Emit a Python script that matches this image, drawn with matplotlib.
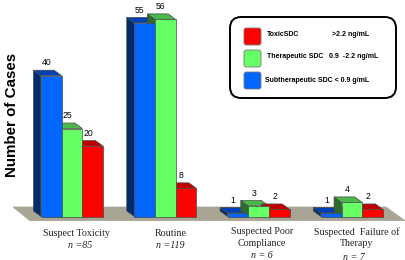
import matplotlib
matplotlib.use('Agg')
import matplotlib.pyplot as plt
from matplotlib.patches import Polygon, FancyBboxPatch

categories = [['Suspect Toxicity'], ['Routine'], ['Suspected Poor', 'Compliance'], ['Suspected  Failure of', 'Therapy']]
n_labels = ['n =85', 'n =119', 'n = 6', 'n = 7']
subtherapeutic = [40, 55, 1, 1]
therapeutic = [25, 56, 3, 4]
toxic = [20, 8, 2, 2]
legend_names = ['ToxicSDC', 'Therapeutic SDC', 'Subtherapeutic SDC < 0.9 g/mL']
legend_ranges = ['>2.2 ng/mL', '0.9  -2.2 ng/mL', '']

W, H = 406, 260
BASE = 216.5
PX_PER_CASE = 3.52
GROUP_PX = 93.3
FIRST_CENTER = 72
BAR_W = 20.7 / GROUP_PX
DX = -7.5 / GROUP_PX
DY = 5.5 / PX_PER_CASE


# pixel position of the reference -> data coordinates of the axes
def px(x, y):
    return (x - FIRST_CENTER) / GROUP_PX, (BASE - y) / PX_PER_CASE


fig = plt.figure(figsize=(W / 100, H / 100), dpi=100)
ax = fig.add_axes([0, 0, 1, 1])
x0, y0 = px(0, H)
x1, y1 = px(W, 0)
ax.set_xlim(x0, x1)
ax.set_ylim(y0, y1)
ax.axis('off')

floor = [px(13, 207), px(30, 220.7), px(405, 220.7), px(386, 207)]
ax.add_patch(Polygon(floor, closed=True, fc='#a8a594', ec='#a8a594', lw=0.5, zorder=1))

series = [
    (subtherapeutic, -1, '#0066ff', '#0040b4', '#002c6c'),
    (therapeutic, 0, '#66ff66', '#4cb84c', '#2c6a2c'),
    (toxic, 1, '#ff0000', '#c00000', '#7c0000'),
]
edge = '#4a4a4a'
z = 2
for values, offset, front, top, side in series:
    for g, v in enumerate(values):
        left = g + offset * BAR_W - BAR_W / 2
        right = left + BAR_W
        ax.add_patch(Polygon([(left, 0), (left, v), (left + DX, v + DY), (left + DX, DY)],
                             closed=True, fc=side, ec=edge, lw=0.5, zorder=z))
        ax.add_patch(Polygon([(left, v), (right, v), (right + DX, v + DY), (left + DX, v + DY)],
                             closed=True, fc=top, ec=edge, lw=0.5, zorder=z))
        # fronts go above all sides and tops, a taller neighbour hides what is behind it
        ax.bar(left, v, width=BAR_W, bottom=0, align='edge', color=front, edgecolor=edge, lw=0.5, zorder=z + 5)
        ax.text(left + BAR_W / 2 + DX / 2 - 1 / GROUP_PX, v + DY + 0.8, str(v), ha='center', va='bottom',
                fontsize=6.2, family='Liberation Sans', zorder=15)
    z += 1

label_x = [76.5, 170.5, 262, 357]
label_y = [[233], [233], [231, 243], [232, 244]]
n_x = [80, 170, 262, 354]
n_y = [246, 245, 256, 257]
for g, lines in enumerate(categories):
    for line, yp in zip(lines, label_y[g]):
        xc, yc = px(label_x[g], yp)
        ax.text(xc, yc, line, ha='center', va='center', fontsize=7.2, family='Liberation Serif', color='#222222')
    xc, yc = px(n_x[g], n_y[g])
    ax.text(xc, yc, n_labels[g], ha='center', va='center', fontsize=7.2, family='Liberation Serif',
            style='italic', color='#222222')

tx, ty = px(12.5, 114.5)
ax.text(tx, ty, 'Number of Cases', rotation=90, ha='center', va='center', fontsize=10.9,
        family='Liberation Sans', fontweight='bold')

# legend box, drawn in data coords scaled from reference pixels
bx0, by0 = px(230, 98)
bx1, by1 = px(396, 17)
box = FancyBboxPatch((bx0, by0), bx1 - bx0, by1 - by0, boxstyle='round,pad=0,rounding_size=0.12',
                     mutation_aspect=(PX_PER_CASE ** -1) * GROUP_PX, fc='white', ec='black', lw=1.4, zorder=20)
ax.add_patch(box)
swatches = ['#ff0000', '#66ff66', '#0066ff']
tops = [28, 50, 72]
text_y = [35, 57, 80]
for color, top, yp, name, rng in zip(swatches, tops, text_y, legend_names, legend_ranges):
    sx0, sy0 = px(244, top + 17)
    sx1, sy1 = px(261, top)
    ax.add_patch(FancyBboxPatch((sx0, sy0), sx1 - sx0, sy1 - sy0, boxstyle='round,pad=0,rounding_size=0.025',
                                mutation_aspect=(PX_PER_CASE ** -1) * GROUP_PX, fc=color, ec='#777777', lw=0.6, zorder=21))
    lx, ly = px(267 if top < 72 else 265, yp)
    ax.text(lx, ly, name, ha='left', va='center', fontsize=5.05, family='Liberation Sans',
            fontweight='bold', zorder=22)
    if rng:
        rx, _ = px(332 if top == 28 else 329, 0)
        ax.text(rx, ly, rng, ha='left', va='center', fontsize=5.05, family='Liberation Sans',
                fontweight='bold', zorder=22)

fig.savefig('out.png', dpi=100)
